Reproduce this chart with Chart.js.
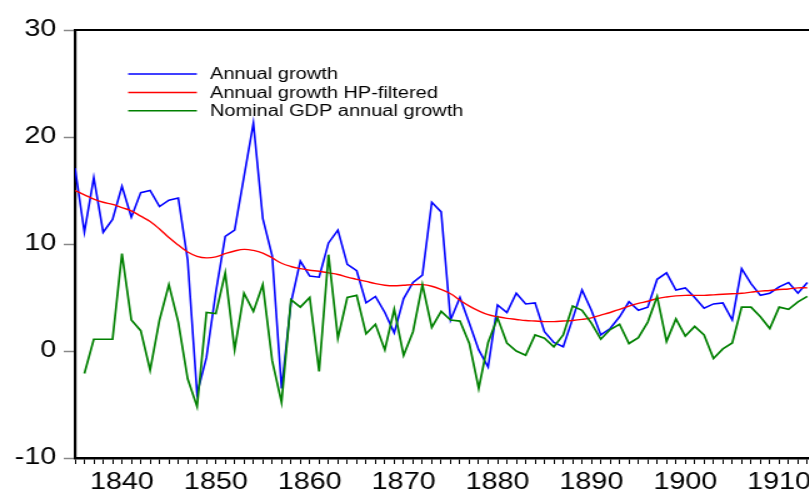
<!DOCTYPE html>
<html><head><meta charset="utf-8">
<script src="https://cdn.jsdelivr.net/npm/chart.js@4"></script>
<style>
html,body{margin:0;padding:0;overflow:hidden;background:#fff;width:809px;height:494px}
#c{display:block;transform:scaleX(1.25);transform-origin:0 0}
</style>
</head><body>
<canvas id="c" width="770" height="494" style="width:770px;height:494px"></canvas>
<script>
const years = [1835,1836,1837,1838,1839,1840,1841,1842,1843,1844,1845,1846,1847,1848,1849,1850,1851,1852,1853,1854,1855,1856,1857,1858,1859,1860,1861,1862,1863,1864,1865,1866,1867,1868,1869,1870,1871,1872,1873,1874,1875,1876,1877,1878,1879,1880,1881,1882,1883,1884,1885,1886,1887,1888,1889,1890,1891,1892,1893,1894,1895,1896,1897,1898,1899,1900,1901,1902,1903,1904,1905,1906,1907,1908,1909,1910,1911,1912,1913];
const annualGrowth = [17.1,11.1,16.2,11.1,12.3,15.4,12.5,14.8,15.0,13.5,14.1,14.3,8.5,-4.0,-0.6,5.5,10.7,11.3,16.3,21.3,12.4,8.9,-3.5,4.5,8.4,7.0,6.9,10.1,11.3,8.1,7.5,4.5,5.1,3.6,1.7,4.9,6.4,7.1,13.9,13.0,2.9,5.0,2.6,0.1,-1.5,4.3,3.6,5.4,4.4,4.5,1.8,0.8,0.4,3.0,5.7,3.8,1.5,2.1,3.2,4.6,3.8,4.1,6.7,7.3,5.7,5.9,5.0,4.0,4.4,4.5,2.9,7.7,6.3,5.2,5.4,6.0,6.4,5.4,6.4];
const hpFiltered = [15.0,14.6,14.2,13.9,13.7,13.4,13.1,12.6,12.1,11.4,10.6,9.9,9.25,8.85,8.7,8.8,9.1,9.35,9.5,9.4,9.15,8.7,8.2,7.9,7.7,7.55,7.45,7.3,7.15,6.9,6.7,6.5,6.3,6.15,6.1,6.15,6.2,6.2,6.05,5.75,5.35,4.75,4.2,3.75,3.4,3.2,3.05,2.95,2.85,2.8,2.75,2.75,2.8,2.85,2.95,3.1,3.35,3.6,3.9,4.2,4.45,4.65,4.9,5.05,5.15,5.2,5.2,5.2,5.25,5.3,5.35,5.4,5.5,5.6,5.65,5.75,5.8,5.9,5.9];
const nominalGdp = [null,-2.1,1.1,1.1,1.1,9.1,2.9,1.9,-1.8,2.9,6.2,2.7,-2.6,-5.2,3.6,3.5,7.3,0.1,5.4,3.7,6.2,-0.9,-4.8,4.8,4.1,5.0,-1.9,9.0,1.2,5.0,5.2,1.6,2.5,0.1,3.9,-0.4,1.8,6.2,2.2,3.7,2.9,2.8,0.7,-3.5,0.8,3.1,0.75,0.0,-0.4,1.5,1.2,0.4,1.5,4.2,3.8,2.6,1.1,2.0,2.5,0.7,1.25,2.7,5.1,0.9,3.0,1.4,2.3,1.5,-0.7,0.2,0.75,4.1,4.1,3.2,2.1,4.1,3.9,4.6,5.1];
const seriesNames = ['Annual growth','Annual growth HP-filtered','Nominal GDP annual growth'];
const yTicks = [-10,0,10,20,30];

const pts = arr => years.map((yr,i)=>({x:yr,y:arr[i]}));
const FONT = '"Liberation Sans", Arial, Helvetica, sans-serif';

const framePlugin = {
  id:'frame',
  afterDraw(chart){
    const {ctx, chartArea:a} = chart;
    ctx.save();
    ctx.strokeStyle='#000'; ctx.lineWidth=2;
    ctx.beginPath(); ctx.moveTo(a.left-1, a.top); ctx.lineTo(a.right, a.top); ctx.lineTo(a.right, a.bottom); ctx.stroke();
    ctx.font='16px '+FONT;
    ctx.textBaseline='middle';
    chart.data.datasets.forEach((ds,i)=>{
      const y = 74 + i*18.4;
      ctx.strokeStyle=ds.borderColor; ctx.lineWidth=1.5;
      ctx.beginPath(); ctx.moveTo(102.5,y); ctx.lineTo(157.5,y); ctx.stroke();
      ctx.fillStyle='#000'; ctx.fillText(ds.label, 168, y+1);
    });
    ctx.restore();
  }
};

new Chart(document.getElementById('c'), {
  type:'line',
  data:{datasets:[
    {label:seriesNames[0], data:pts(annualGrowth), borderColor:'#0000ff', borderWidth:1.6, pointRadius:0, order:2},
    {label:seriesNames[1], data:pts(hpFiltered), borderColor:'#ff0000', borderWidth:1.4, pointRadius:0, tension:0.4, order:1},
    {label:seriesNames[2], data:pts(nominalGdp), borderColor:'#008000', borderWidth:1.7, pointRadius:0, order:0}
  ]},
  options:{
    responsive:false, animation:false, devicePixelRatio:1,
    layout:{padding:{top:30,right:34,left:0,bottom:0}},
    plugins:{legend:{display:false}, tooltip:{enabled:false}},
    scales:{
      x:{type:'linear', min:1835, max:1925,
        afterFit(s){ s.height = 36; },
        border:{display:true,color:'#000',width:2.5},
        grid:{drawOnChartArea:false, drawTicks:true, tickLength:6, tickColor:'#000', tickWidth:1},
        ticks:{stepSize:1, autoSkip:false, maxRotation:0, padding:5, color:'#000',
          font:{family:FONT,size:23},
          callback:v=> (v%10===0 ? String(v) : '')}
      },
      y:{min:yTicks[0], max:yTicks[yTicks.length-1],
        afterFit(s){ s.width = 60; },
        afterBuildTicks(s){ s.ticks = yTicks.map(v=>({value:v})); },
        border:{display:true,color:'#000',width:2.2},
        grid:{drawOnChartArea:false, drawTicks:true, tickLength:9, tickColor:'#888', tickWidth:1.5},
        ticks:{padding:6, color:'#000', font:{family:FONT,size:23}}
      }
    }
  },
  plugins:[framePlugin]
});
</script>
</body></html>
